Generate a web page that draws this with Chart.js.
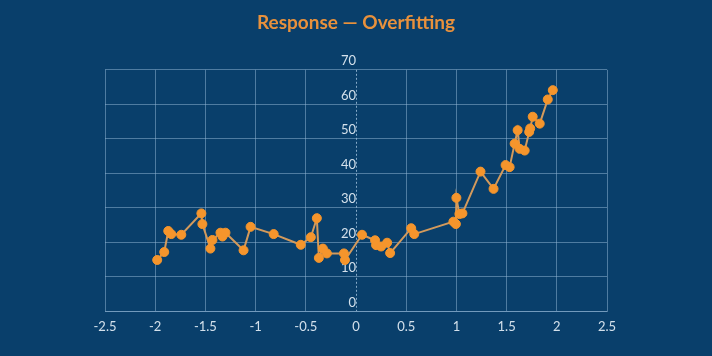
<!DOCTYPE html>
<html>
<head>
<meta charset="utf-8">
<script src="https://cdn.jsdelivr.net/npm/chart.js@4"></script>
<style>
  html, body { margin: 0; padding: 0; background: #093f6b; }
  #wrap { width: 712px; height: 356px; }
</style>
</head>
<body>
<div id="wrap"><canvas id="c" width="712" height="356"></canvas></div>
<script>
const titleText = "Response — Overfitting";
const xValues = [-1.98, -1.91, -1.87, -1.84, -1.74, -1.54, -1.53, -1.45, -1.43, -1.35, -1.33, -1.30, -1.12, -1.05, -0.82, -0.55, -0.45, -0.39, -0.37, -0.33, -0.29, -0.12, -0.11, 0.06, 0.19, 0.20, 0.25, 0.31, 0.34, 0.55, 0.58, 0.97, 0.995, 1.00, 1.03, 1.06, 1.24, 1.37, 1.49, 1.53, 1.58, 1.61, 1.63, 1.68, 1.725, 1.735, 1.76, 1.83, 1.91, 1.96];
const yValues = [14.9, 17.2, 23.3, 22.4, 22.2, 28.4, 25.3, 18.2, 20.7, 22.8, 21.7, 22.8, 17.7, 24.5, 22.4, 19.3, 21.5, 27.0, 15.5, 18.2, 16.8, 16.8, 14.9, 22.2, 20.6, 19.2, 18.8, 19.9, 16.9, 24.1, 22.4, 26.0, 25.3, 32.9, 28.2, 28.4, 40.5, 35.5, 42.4, 41.8, 48.6, 52.5, 47.1, 46.6, 52.0, 53.0, 56.4, 54.4, 61.4, 64.1];
const xTicks = [-2.5, -2, -1.5, -1, -0.5, 0, 0.5, 1, 1.5, 2, 2.5];
const yTicks = [0, 10, 20, 30, 40, 50, 60, 70];

const points = xValues.map((x, i) => ({ x: x, y: yValues[i] }));
const gridColor = 'rgba(150,185,215,0.5)';
const zeroLineColor = 'rgba(175,205,230,0.75)';

new Chart(document.getElementById('c'), {
  type: 'line',
  data: {
    datasets: [{
      data: points,
      borderColor: '#d39a5c',
      borderWidth: 2,
      backgroundColor: '#f5952c',
      pointBackgroundColor: '#f5952c',
      pointBorderColor: '#f5952c',
      pointRadius: 4.5,
      pointBorderWidth: 1,
      tension: 0
    }]
  },
  options: {
    responsive: false,
    animation: false,
    devicePixelRatio: 1,
    layout: { padding: { left: 105, right: 105, top: 0, bottom: 13 } },
    plugins: {
      legend: { display: false },
      tooltip: { enabled: false },
      title: {
        display: true,
        text: titleText,
        color: '#e8913c',
        font: { family: 'Lato', size: 19, weight: 'bold' },
        padding: { top: 11, bottom: 36 }
      }
    },
    scales: {
      x: {
        type: 'linear',
        min: -2.5,
        max: 2.5,
        afterBuildTicks: (s) => { s.ticks = xTicks.map(v => ({ value: v })); },
        grid: {
          color: (ctx) => (ctx.tick && ctx.tick.value === 0) ? zeroLineColor : gridColor,
          drawTicks: false,
          lineWidth: 1
        },
        border: {
          display: true,
          color: gridColor,
          dash: (ctx) => (ctx.tick && ctx.tick.value === 0) ? [2, 2] : []
        },
        ticks: {
          color: '#d3e0eb',
          font: { family: 'Lato', size: 13 },
          padding: 8,
          maxRotation: 0,
          autoSkip: false,
          callback: (v) => String(v)
        }
      },
      y: {
        type: 'linear',
        min: 0,
        max: 70,
        position: { x: 0 },
        afterBuildTicks: (s) => { s.ticks = yTicks.map(v => ({ value: v })); },
        grid: { color: gridColor, drawTicks: false, lineWidth: 1 },
        border: { display: false },
        ticks: {
          color: '#d3e0eb',
          font: { family: 'Lato', size: 13 },
          padding: 6,
          labelOffset: -9,
          autoSkip: false,
          callback: (v) => String(v)
        }
      }
    }
  }
});
</script>
</body>
</html>
